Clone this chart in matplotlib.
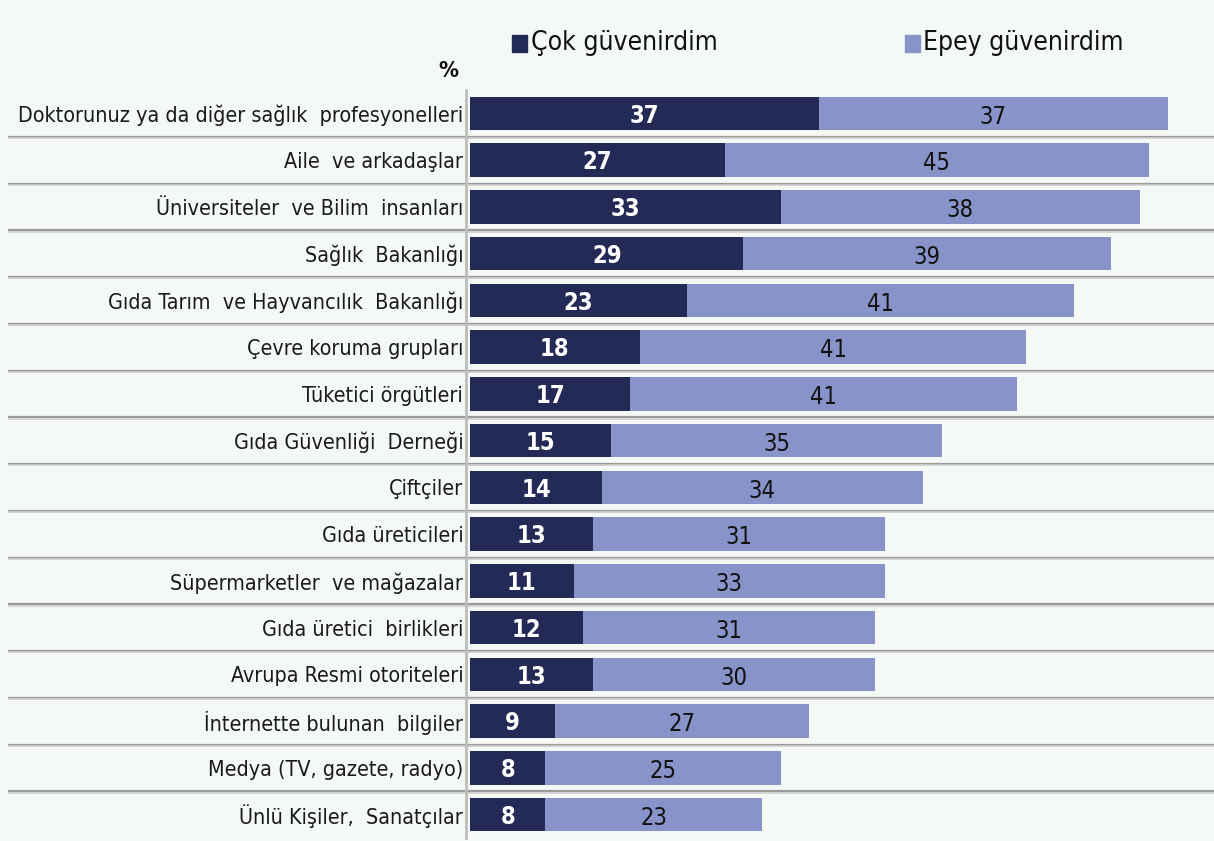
import matplotlib
matplotlib.use("Agg")
import matplotlib.pyplot as plt
import matplotlib.transforms as mtransforms

categories = [
    "Doktorunuz ya da diğer sağlık  profesyonelleri",
    "Aile  ve arkadaşlar",
    "Üniversiteler  ve Bilim  insanları",
    "Sağlık  Bakanlığı",
    "Gıda Tarım  ve Hayvancılık  Bakanlığı",
    "Çevre koruma grupları",
    "Tüketici örgütleri",
    "Gıda Güvenliği  Derneği",
    "Çiftçiler",
    "Gıda üreticileri",
    "Süpermarketler  ve mağazalar",
    "Gıda üretici  birlikleri",
    "Avrupa Resmi otoriteleri",
    "İnternette bulunan  bilgiler",
    "Medya (TV, gazete, radyo)",
    "Ünlü Kişiler,  Sanatçılar",
]
cok = [37, 27, 33, 29, 23, 18, 17, 15, 14, 13, 11, 12, 13, 9, 8, 8]
epey = [37, 45, 38, 39, 41, 41, 41, 35, 34, 31, 33, 31, 30, 27, 25, 23]
series_names = ["Çok güvenirdim", "Epey güvenirdim"]

DARK = "#232a55"
LIGHT = "#8893c9"
BG = "#f5f9f6"
FONT = dict(family="DejaVu Sans", stretch="condensed")

W, H = 1214, 841
fig = plt.figure(figsize=(W / 100, H / 100), dpi=100, facecolor=BG)
left_px, right_px, top_px, bot_px = 466, 1214, 90, 838
ax = fig.add_axes([left_px / W, 1 - bot_px / H, (right_px - left_px) / W, (bot_px - top_px) / H])
ax.set_facecolor(BG)

scale = 9.43  # px per unit
ax.set_xlim(-4 / scale, (right_px - left_px - 4) / scale)
n = len(categories)
ax.set_ylim(n - 0.5, -0.5)

ys = list(range(n))
ax.barh(ys, cok, height=0.72, color=DARK, edgecolor="none", zorder=3)
ax.barh(ys, epey, left=cok, height=0.72, color=LIGHT, edgecolor="none", zorder=3)

for y, a, b in zip(ys, cok, epey):
    ax.text(a / 2, y + 0.05, str(a), ha="center", va="center", color="white",
            fontsize=17, fontweight="bold", zorder=4, **FONT)
    ax.text(a + b / 2, y + 0.07, str(b), ha="center", va="center", color="#111111",
            fontsize=17, zorder=4, **FONT)

# separators
trans = mtransforms.blended_transform_factory(ax.transAxes, ax.transData)
x0 = (8 - left_px) / (right_px - left_px)
for i in range(n - 1):
    ax.plot([x0, 1], [i + 0.5, i + 0.5], transform=trans, color="#9a9a9a", lw=1.6,
            clip_on=False, zorder=2, solid_capstyle="butt")
    ax.plot([x0, 1], [i + 0.53, i + 0.53], transform=trans, color="#cfcfcf", lw=1.2,
            clip_on=False, zorder=2, solid_capstyle="butt")

for s in ["top", "right", "bottom"]:
    ax.spines[s].set_visible(False)
ax.spines["left"].set_color("#bdbdbd")
ax.spines["left"].set_linewidth(2)
ax.spines["left"].set_zorder(5)

ax.set_xticks([])
ax.set_yticks(ys)
ax.set_yticklabels(categories, fontsize=15.4, color="#1a1a1a", **FONT)
ax.tick_params(axis="y", length=0, pad=2)
for lbl in ax.get_yticklabels():
    lbl.set_y(lbl.get_position()[1])

fig.text(448 / W, 1 - 71 / H, "%", ha="center", va="center", fontsize=16,
         fontweight="bold", color="#111111", **FONT)

# legend
for name, col, sx, tx in [(series_names[0], DARK, 512, 531), (series_names[1], LIGHT, 905, 923)]:
    fig.patches.append(plt.Rectangle((sx / W, 1 - 52 / H), 15 / W, 17 / H, transform=fig.transFigure,
                                     color=col, figure=fig))
    fig.text(tx / W, 1 - 43 / H, name, ha="left", va="center", fontsize=19,
             color="#111111", **FONT)

fig.savefig("out.png", dpi=100, facecolor=BG)
